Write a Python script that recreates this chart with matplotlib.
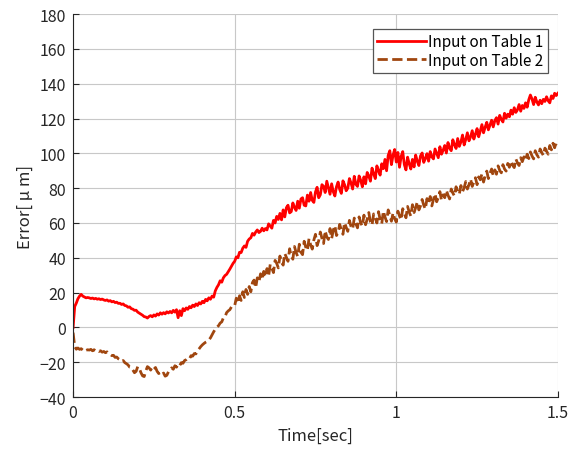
import numpy as np
import matplotlib
matplotlib.use('Agg')
import matplotlib.pyplot as plt

plt.rcParams['font.family'] = ['Noto Sans CJK JP', 'DejaVu Sans']

# sample step of the recorded signals [sec]
dt = 0.005

# Input on Table 1, groups of 10 samples (0.05 sec each)
table1 = [
    0, 12, 14, 16.5, 18, 19, 18, 17.5, 17, 17.2,
    17, 16.6, 16.9, 16.4, 16.7, 16.2, 16.5, 16, 16.3, 15.8,
    15.5, 15.8, 15.1, 15.4, 14.7, 15.0, 14.3, 14.5, 13.8, 13.9,
    13.2, 13.5, 12.6, 12.4, 11.6, 11.8, 10.8, 10.5, 9.8, 9.9,
    8.8, 8.2, 7.6, 7.0, 6.2, 6.0, 5.4, 6.3, 6.8, 6.1,
    7.2, 6.5, 7.8, 7.1, 8.4, 7.6, 8.5, 7.8, 9.0, 8.3,
    9.2, 8.4, 9.8, 8.8, 10.2, 5.6, 9.6, 6.8, 10.8, 9.6,
    11.2, 10.4, 12.0, 11.3, 12.8, 12.0, 13.5, 12.6, 14.2, 13.5,
    15.0, 14.2, 16.1, 15.3, 17.0, 16.2, 18.0, 17.4, 21.0, 23.0,
    24.5, 26.8, 26.0, 28.5, 29.8, 30.5, 32.0, 33.5, 35.2, 36.8,
    38.0, 40.5, 40.0, 43.2, 43.0, 45.5, 46.8, 46.0, 49.5, 50.8,
    51.5, 54.0, 53.0, 54.8, 56.0, 54.5, 55.2, 57.0, 55.5, 56.8,
    56.0, 59.5, 58.2, 57.0, 61.5, 60.0, 63.8, 62.0, 65.5, 61.8,
    67.5, 63.5, 68.8, 70.2, 65.8, 66.5, 71.5, 69.0, 67.2, 72.5,
    68.5, 73.8, 74.5, 70.2, 69.8, 76.0, 72.5, 77.5, 73.0, 71.8,
    77.8, 80.5, 74.5, 76.2, 82.0, 81.0, 77.5, 84.0, 80.2, 76.5,
    82.5, 78.0, 75.5, 80.8, 83.5, 79.2, 77.0, 84.2, 82.0, 78.5,
    80.0, 85.5, 83.0, 79.5, 86.8, 82.2, 81.0, 87.0, 84.5, 80.8,
    86.5, 82.5, 89.0, 87.0, 84.0, 91.5, 88.2, 85.5, 92.8, 90.0,
    87.5, 94.0, 91.2, 96.5, 90.0, 98.8, 101.5, 93.5, 99.0, 102.2,
    95.0, 100.5, 92.0, 98.2, 101.0, 93.5, 90.5, 97.8, 94.0, 91.0,
    96.5, 92.2, 99.0, 95.5, 93.0, 98.5, 100.2, 94.8, 97.0, 99.8,
    95.5, 101.0, 98.0, 96.8, 102.5, 100.0, 97.5, 103.8, 99.5, 101.8,
    104.5, 100.2, 106.2, 103.0, 101.5, 107.8, 105.0, 102.8, 108.5, 104.0,
    106.5, 110.5, 104.8, 108.0, 111.8, 107.2, 109.5, 113.0, 108.2, 111.0,
    114.2, 109.5, 112.8, 116.5, 111.8, 115.0, 117.8, 113.5, 116.2, 119.0,
    115.2, 118.8, 120.5, 116.8, 121.8, 119.5, 118.0, 123.0, 120.2, 122.5,
    121.0, 124.8, 122.5, 126.2, 123.5, 125.0, 128.0, 124.2, 127.5, 125.8,
    129.0, 126.5, 130.8, 133.5, 131.2, 128.0, 132.2, 129.5, 127.8, 130.5,
    128.5, 131.0, 129.8, 132.5, 130.2, 129.0, 133.0, 131.5, 134.5, 133.2,
    134.5,
]

# Input on Table 2
table2 = [
    -3, -11, -12.5, -11.8, -12.6, -12.2, -13.0, -12.4, -13.2, -12.8,
    -13.0, -12.6, -13.4, -12.8, -13.6, -13.2, -13.8, -13.4, -14.2, -13.8,
    -14.5, -14.0, -15.0, -15.5, -16.2, -16.0, -17.2, -17.0, -18.0, -18.5,
    -19.5, -19.0, -20.2, -20.8, -21.5, -22.8, -23.0, -24.5, -26.0, -25.2,
    -22.5, -23.5, -26.0, -27.8, -28.2, -25.0, -22.5, -23.2, -24.5, -22.8,
    -24.0, -23.0, -25.2, -26.5, -25.8, -27.0, -26.2, -28.0, -27.5, -25.5,
    -24.5, -23.2, -24.0, -22.0, -22.8, -21.0, -21.8, -20.2, -20.6, -19.0,
    -18.5, -17.6, -18.0, -16.2, -16.5, -15.0, -15.2, -13.5, -12.2, -11.0,
    -10.0, -9.2, -8.5, -8.0, -7.2, -6.0, -4.2, -2.5, -1.0, 0.2,
    1.0, 2.5, 3.2, 5.5, 6.0, 8.5, 9.5, 10.2, 11.8, 12.5,
    12.5, 16.8, 14.0, 18.2, 15.5, 20.5, 17.2, 21.8, 19.0, 23.5,
    20.5, 25.8, 27.2, 22.8, 28.5, 26.0, 30.8, 27.5, 32.2, 29.0,
    33.8, 29.5, 36.2, 34.0, 31.5, 38.5, 36.8, 34.2, 41.0, 37.5,
    35.8, 42.5, 40.2, 38.0, 45.2, 41.0, 39.2, 46.5, 43.0, 40.8,
    47.8, 43.2, 41.8, 49.5, 46.0, 44.2, 51.0, 47.5, 45.0, 50.2,
    53.5, 47.0, 49.8, 54.8, 51.2, 48.2, 55.5, 52.0, 50.5, 56.8,
    51.0, 55.8, 58.5, 52.8, 54.5, 59.2, 56.0, 53.5, 60.2, 57.5,
    55.2, 61.5, 58.0, 56.5, 62.8, 59.5, 57.2, 63.5, 60.0, 58.2,
    64.5, 59.0, 62.2, 66.0, 60.5, 58.8, 65.2, 63.0, 60.0, 66.5,
    62.0, 59.5, 66.8, 63.5, 60.8, 67.5, 64.2, 61.0, 65.8, 62.5,
    60.5, 66.8, 64.0, 61.8, 68.2, 65.5, 63.0, 69.5, 66.2, 64.0,
    70.5, 66.0, 68.8, 72.2, 67.5, 69.8, 73.5, 70.2, 68.0, 74.0,
    71.0, 75.2, 69.8, 73.5, 76.8, 72.2, 74.5, 78.0, 73.0, 76.2,
    74.5, 78.8, 76.0, 73.8, 79.5, 77.2, 75.5, 80.8, 78.0, 76.5,
    81.5, 78.0, 80.2, 83.8, 79.5, 82.0, 85.2, 81.0, 83.5, 86.0,
    82.0, 86.5, 84.8, 88.2, 83.5, 87.0, 89.8, 85.5, 88.5, 91.0,
    87.2, 90.5, 88.0, 92.8, 90.2, 88.8, 93.5, 91.0, 89.8, 94.2,
    92.0, 95.5, 93.2, 91.8, 96.8, 94.5, 93.0, 97.5, 95.2, 98.0,
    96.2, 99.5, 97.0, 100.8, 98.5, 96.8, 101.5, 99.2, 97.8, 102.5,
    100.5, 98.8, 103.0, 101.2, 99.5, 104.5, 102.0, 105.8, 103.2, 106.5,
    105.0,
]

xticks = [0, 0.5, 1, 1.5]
xticklabels = ['0', '0.5', '1', '1.5']
yticks = [-40, -20, 0, 20, 40, 60, 80, 100, 120, 140, 160, 180]

t = np.arange(len(table1)) * dt

fig = plt.figure(figsize=(5.71, 4.56), dpi=100)
ax = fig.add_axes([0.128, 0.127, 0.849, 0.84])

ax.plot(t, table1, color='#ff0000', lw=2.0, label='Input on Table 1')
ax.plot(t, table2, color='#a0460f', lw=2.0, ls='--', label='Input on Table 2')

ax.set_xlim(0, 1.5)
ax.set_ylim(-40, 180)
ax.set_xticks(xticks)
ax.set_xticklabels(xticklabels)
ax.set_yticks(yticks)
ax.grid(True, color='#c8c8c8', lw=0.8)
ax.set_axisbelow(True)
ax.spines['top'].set_visible(False)
ax.spines['right'].set_visible(False)
for s in ['left', 'bottom']:
    ax.spines[s].set_color('#262626')
    ax.spines[s].set_linewidth(0.8)
ax.tick_params(direction='in', length=4, width=0.8, labelsize=11.5,
               colors='#262626', pad=5)

ax.set_xlabel('Time[sec]', fontsize=12, color='#262626', labelpad=4)
ax.set_ylabel('Error[ μ m]', fontsize=12, color='#262626', labelpad=4)

leg = ax.legend(loc='upper right', fontsize=11, handlelength=3.2,
                handletextpad=0.1, borderpad=0.3, labelspacing=0.1,
                borderaxespad=0, fancybox=False, framealpha=1,
                bbox_to_anchor=(0.979, 0.962))
leg.get_frame().set_edgecolor('#555555')
leg.get_frame().set_linewidth(0.9)

fig.savefig('out.png', dpi=100)
